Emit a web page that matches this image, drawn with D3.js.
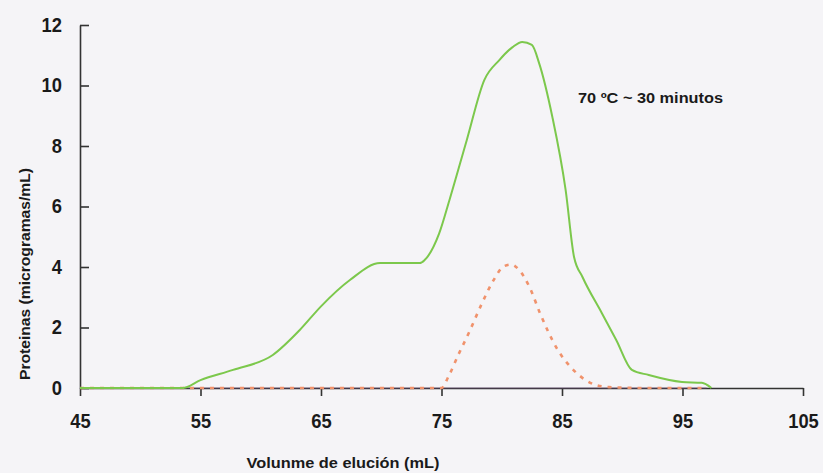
<!DOCTYPE html>
<html>
<head>
<meta charset="utf-8">
<script src="https://cdn.jsdelivr.net/npm/d3@7"></script>
<style>
  html, body { margin: 0; padding: 0; background: #f5f4f7; }
  svg { display: block; }
  text { font-family: "Liberation Sans", Arial, sans-serif; font-weight: bold; fill: #1a1a1a; }
</style>
</head>
<body>
<svg id="chart" width="823" height="473"></svg>
<script>
// Elution volume (mL) and protein concentration (µg/mL), total protein profile
const totalVolume = [45, 50, 53.5, 55, 57.7, 61, 63.2, 65, 67.4, 69.9, 71.5, 73.2, 73.6, 74.8, 75.65, 77.1, 78.55, 79.8, 80.9, 81.7, 82.5, 83.1, 84.2, 85.3, 86.0, 86.7, 88.3, 89.5, 90.8, 92.2, 94.96, 96.6, 97.4];
const totalProtein = [0, 0, 0, 0.26, 0.6, 1.09, 1.9, 2.7, 3.57, 4.13, 4.13, 4.13, 4.23, 5.1, 6.2, 8.2, 10.18, 10.84, 11.27, 11.44, 11.34, 10.74, 8.96, 6.55, 4.33, 3.67, 2.48, 1.59, 0.6, 0.43, 0.2, 0.17, 0];

// Second fraction (dotted)
const fracVolume = [45, 60, 75, 75.6, 76.4, 77.3, 78.3, 79.3, 80.2, 80.8, 81.4, 82.3, 83.2, 84.5, 86.2, 87.8, 88.9, 92, 97];
const fracProtein = [0, 0, 0, 0.4, 1.1, 1.85, 2.75, 3.55, 4.03, 4.08, 3.92, 3.34, 2.45, 1.36, 0.5, 0.1, 0.03, 0, 0];

const xTicks = [45, 55, 65, 75, 85, 95, 105];
const yTicks = [0, 2, 4, 6, 8, 10, 12];

const svg = d3.select("#chart");
const x = d3.scaleLinear().domain([45, 105]).range([80, 803]);
const y = d3.scaleLinear().domain([0, 12]).range([388, 25]);

// Axes
const xAxis = svg.append("g")
  .attr("transform", `translate(0,${y(0)})`)
  .call(d3.axisBottom(x).tickValues(xTicks).tickSize(8).tickPadding(18).tickSizeOuter(0));
const yAxis = svg.append("g")
  .attr("transform", `translate(${x(45)},0)`)
  .call(d3.axisLeft(y).tickValues(yTicks).tickSize(-9).tickPadding(22).tickSizeOuter(0));

[xAxis, yAxis].forEach(g => {
  g.select(".domain").attr("stroke", "#333").attr("stroke-width", 1.6);
  g.selectAll(".tick line").attr("stroke", "#333").attr("stroke-width", 1.6);
  g.selectAll(".tick text")
    .attr("font-family", "'Liberation Sans', Arial, sans-serif")
    .attr("font-weight", "bold")
    .attr("font-size", 20)
    .attr("fill", "#1a1a1a");
});
xAxis.selectAll(".tick text").each(function() {
  const t = d3.select(this);
  t.attr("textLength", t.text().length * 10.2).attr("lengthAdjust", "spacingAndGlyphs");
});
yAxis.selectAll(".tick text").each(function() {
  const t = d3.select(this);
  t.attr("textLength", t.text().length * 10.2).attr("lengthAdjust", "spacingAndGlyphs")
   .attr("x", -18);
});

const line = d3.line().x(d => x(d[0])).y(d => y(d[1])).curve(d3.curveMonotoneX);

// Baseline trace at zero
svg.append("path")
  .datum([[45, 0], [97, 0]])
  .attr("d", line)
  .attr("fill", "none")
  .attr("stroke", "#6a4a7a")
  .attr("stroke-width", 1.2)
  .attr("opacity", 0.6);

// Dotted fraction
svg.append("path")
  .datum(d3.zip(fracVolume, fracProtein))
  .attr("d", line)
  .attr("fill", "none")
  .attr("stroke", "#f0926c")
  .attr("stroke-width", 2.6)
  .attr("stroke-dasharray", "4,6");

// Total protein
svg.append("path")
  .datum(d3.zip(totalVolume, totalProtein))
  .attr("d", line)
  .attr("fill", "none")
  .attr("stroke", "#7cc84c")
  .attr("stroke-width", 2);

// Labels
svg.append("text")
  .attr("x", 343).attr("y", 468)
  .attr("text-anchor", "middle")
  .attr("font-size", 14)
  .attr("textLength", 193).attr("lengthAdjust", "spacingAndGlyphs")
  .text("Volunme de elución (mL)");

svg.append("text")
  .attr("transform", "translate(30,274) rotate(-90)")
  .attr("text-anchor", "middle")
  .attr("font-size", 14)
  .attr("textLength", 212).attr("lengthAdjust", "spacingAndGlyphs")
  .text("Proteinas (microgramas/mL)");

svg.append("text")
  .attr("x", 578).attr("y", 103)
  .attr("font-size", 14)
  .attr("textLength", 145).attr("lengthAdjust", "spacingAndGlyphs")
  .text("70 ºC ~ 30 minutos");
</script>
</body>
</html>
